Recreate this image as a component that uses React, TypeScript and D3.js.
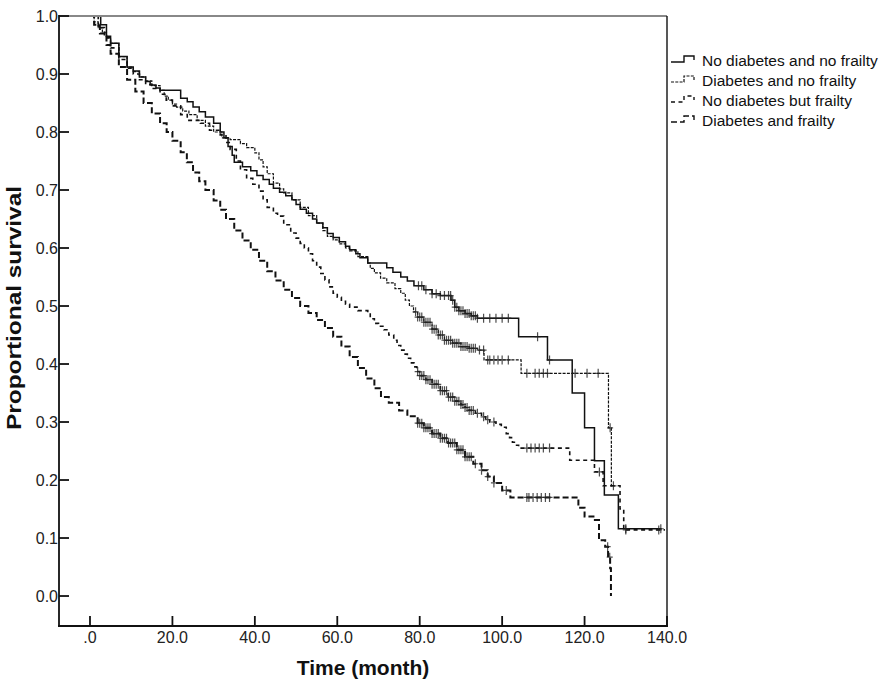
import * as d3 from 'd3';

type Pt = [number, number];

// Kaplan-Meier curves: [month, proportional survival]
const noDmNoFrail: Pt[] = [
  [0, 1], [2.6, 0.985], [4, 0.965], [5, 0.953], [7, 0.93], [9, 0.912], [10.5, 0.905], [12, 0.895],
  [13.5, 0.887], [14.6, 0.881], [16, 0.876], [17, 0.872], [22, 0.858], [23.6, 0.852], [25, 0.843],
  [26.5, 0.835], [28, 0.826], [30, 0.815], [31.6, 0.8], [32.5, 0.79], [33.5, 0.775], [34.5, 0.76],
  [35, 0.748], [37, 0.74], [39, 0.733], [40.5, 0.725], [42, 0.718], [43.5, 0.71], [44.5, 0.703],
  [46, 0.696], [47.5, 0.69], [49, 0.683], [50, 0.675], [51, 0.667], [52.5, 0.66], [54, 0.65],
  [55, 0.643], [56.5, 0.635], [57.6, 0.625], [59, 0.618], [60.5, 0.611], [62, 0.603], [63, 0.597],
  [64.5, 0.59], [65.5, 0.583], [67.4, 0.574], [72, 0.566], [73.5, 0.558], [75.4, 0.55], [77, 0.543],
  [78.6, 0.535], [81, 0.528], [83, 0.521], [85, 0.518], [87.6, 0.51], [88.5, 0.498], [89.5, 0.492],
  [91, 0.487], [92.5, 0.483], [94, 0.479], [104, 0.447], [111, 0.407], [117, 0.35], [120, 0.29],
  [122.4, 0.233], [124.8, 0.174], [128.2, 0.116], [138.7, 0.116],
];

const dmNoFrail: Pt[] = [
  [0, 1], [1, 0.99], [2, 0.98], [3, 0.972], [4, 0.962], [5, 0.953], [7, 0.93], [9, 0.912],
  [10.5, 0.904], [12, 0.895], [13.5, 0.888], [15, 0.88], [17, 0.872], [18, 0.862], [19, 0.855],
  [20, 0.848], [21, 0.843], [22.5, 0.836], [24, 0.83], [26, 0.82], [28, 0.81], [30, 0.8], [32, 0.79],
  [34, 0.787], [36.5, 0.78], [38, 0.773], [40, 0.764], [41, 0.752], [42, 0.74], [43, 0.728],
  [44.5, 0.712], [46, 0.702], [47, 0.695], [49, 0.683], [51, 0.67], [53, 0.656], [55, 0.643],
  [56.5, 0.63], [57.6, 0.62], [59, 0.614], [60.5, 0.607], [62, 0.6], [63, 0.595], [65, 0.585],
  [67.4, 0.574], [68, 0.565], [69, 0.557], [70.5, 0.548], [72, 0.54], [74, 0.53], [75.4, 0.522],
  [76.5, 0.51], [77.5, 0.5], [78.5, 0.49], [79.5, 0.481], [81, 0.472], [83, 0.46], [84.5, 0.45],
  [86, 0.441], [88, 0.436], [90, 0.43], [92, 0.427], [94, 0.424], [95.6, 0.407], [104.6, 0.384],
  [125.8, 0.29], [126.5, 0.19], [127.4, 0.19],
];

const noDmFrail: Pt[] = [
  [0, 1], [2, 0.98], [3.5, 0.963], [5, 0.945], [7, 0.925], [9, 0.91], [10.5, 0.9], [12, 0.89],
  [13.5, 0.882], [15, 0.875], [17, 0.865], [18.5, 0.855], [20, 0.845], [22, 0.83], [23.6, 0.82],
  [26.8, 0.815], [29, 0.803], [31.6, 0.795], [33, 0.782], [34, 0.77], [35.5, 0.75], [36.5, 0.735],
  [38, 0.72], [39.5, 0.71], [41, 0.698], [42, 0.683], [43, 0.67], [44.5, 0.66], [45.5, 0.655],
  [47, 0.64], [48.7, 0.626], [50, 0.617], [51, 0.608], [52, 0.6], [53, 0.59], [54, 0.578],
  [55, 0.567], [56, 0.556], [57, 0.545], [58, 0.533], [59, 0.522], [60, 0.515], [61, 0.508],
  [62, 0.503], [63, 0.498], [65, 0.492], [67.4, 0.488], [68, 0.478], [69, 0.47], [70, 0.465],
  [71.3, 0.459], [72.5, 0.45], [73.7, 0.441], [74.5, 0.432], [75.4, 0.424], [76.2, 0.417],
  [77, 0.41], [77.8, 0.402], [78.6, 0.395], [79.3, 0.387], [80, 0.38], [81.5, 0.373], [83, 0.365],
  [85, 0.354], [86.9, 0.343], [88.5, 0.336], [90, 0.33], [91, 0.325], [92, 0.32], [93.5, 0.315],
  [95, 0.309], [96, 0.304], [97, 0.3], [98.5, 0.296], [99.8, 0.291], [101, 0.28], [101.8, 0.273],
  [102.5, 0.265], [103.2, 0.26], [104, 0.255], [116.4, 0.234], [122.4, 0.214], [124.5, 0.19],
  [128.6, 0.15], [129.5, 0.114], [139.5, 0.114],
];

const dmFrail: Pt[] = [
  [0, 1], [1, 0.985], [2.4, 0.97], [4, 0.95], [5, 0.935], [7, 0.912], [9, 0.89], [11, 0.87],
  [13, 0.85], [15, 0.832], [17, 0.815], [18.6, 0.8], [20, 0.785], [22, 0.765], [23.5, 0.748],
  [25, 0.73], [26.5, 0.715], [28, 0.7], [30, 0.682], [31.6, 0.666], [33, 0.65], [35, 0.63],
  [37, 0.613], [39, 0.597], [41, 0.578], [43, 0.56], [45, 0.544], [47, 0.528], [49, 0.514],
  [51, 0.5], [53, 0.488], [55, 0.476], [57, 0.462], [59, 0.447], [61, 0.43], [63, 0.412],
  [65, 0.393], [67, 0.375], [69, 0.358], [70.6, 0.343], [72.5, 0.333], [75, 0.32], [77, 0.31],
  [79.5, 0.298], [81, 0.29], [83, 0.28], [85, 0.272], [86.9, 0.264], [89, 0.252], [91, 0.24],
  [93, 0.228], [95, 0.217], [96.5, 0.206], [98, 0.195], [100, 0.182], [102, 0.17], [118.5, 0.152],
  [120, 0.137], [122.5, 0.131], [123.5, 0.096], [125, 0.085], [125.7, 0.067], [126.2, 0.048],
  [126.4, 0],
];

// censoring times (months)
const noDmNoFrailCens = [
  79.7, 80.5, 81.5, 83, 84, 85, 86, 87, 87.5, 88, 88.5, 89, 89.5, 90, 90.5, 91, 91.5, 92, 92.5,
  93, 93.5, 94, 95.5, 97, 98.5, 100, 101.5, 108.6, 111.5, 130, 138.5,
];
const dmNoFrailCens = [
  79, 79.5, 80, 80.5, 81, 81.5, 82, 82.5, 83, 83.5, 84, 84.5, 85, 85.5, 86, 86.5, 87, 87.5, 88,
  88.5, 89, 89.5, 90, 90.5, 91, 91.5, 92, 92.5, 93, 93.5, 94.5, 95.5, 96.5, 97, 98, 99, 100, 101.5,
  106, 108, 109, 110, 111, 117.7, 120.6, 123.3, 126.2, 127,
];
const noDmFrailCens = [
  79.5, 80, 80.5, 81, 81.5, 82, 82.5, 83, 83.5, 84, 84.5, 85, 85.5, 86, 86.5, 87, 87.5, 88, 88.5,
  89, 89.5, 90, 90.5, 91, 91.5, 92, 92.5, 93, 94, 95.5, 96.5, 98, 106, 107, 108, 109, 110, 111.5,
  123.6, 130, 138,
];
const dmFrailCens = [
  79.5, 80, 80.5, 81, 81.5, 82, 82.5, 83, 83.5, 84, 84.5, 85, 85.5, 86, 86.5, 87, 87.5, 88, 88.5,
  89, 89.5, 90, 90.5, 91, 91.5, 92, 92.5, 93.5, 95, 96.5, 98, 101, 106, 106.5, 107.5, 108.5,
  109.5, 110.5, 111.5, 125.6, 126.1,
];

const groupLabels = ['No diabetes and no frailty', 'Diabetes and no frailty', 'No diabetes but frailty', 'Diabetes and frailty'];
const xTicks = [0, 20, 40, 60, 80, 100, 120, 140];
const yTicks = [0, 0.1, 0.2, 0.3, 0.4, 0.5, 0.6, 0.7, 0.8, 0.9, 1.0];

const W = 886;
const H = 686;
const left = 59;
const right = 667;
const top = 16;
const bottom = 626;

const groups = [
  { pts: noDmNoFrail, cens: noDmNoFrailCens, dash: undefined, width: 1.5 },
  { pts: dmNoFrail, cens: dmNoFrailCens, dash: '3,1.3', width: 1.2 },
  { pts: noDmFrail, cens: noDmFrailCens, dash: '4,3.5', width: 1.6 },
  { pts: dmFrail, cens: dmFrailCens, dash: '6,3', width: 2 },
];

export default function App() {
  const x = d3.scaleLinear().domain([-7.52, 140]).range([left, right]);
  const y = d3.scaleLinear().domain([-0.0517, 1]).range([bottom, top]);
  const line = d3
    .line<Pt>()
    .x((d) => x(d[0]))
    .y((d) => y(d[1]))
    .curve(d3.curveStepAfter);
  const bis = d3.bisector<Pt, number>((d) => d[0]).right;
  const valueAt = (pts: Pt[], t: number) => pts[Math.max(0, bis(pts, t) - 1)][1];
  const font = 'Arial, "Liberation Sans", sans-serif';

  return (
    <svg
      width={W}
      height={H}
      viewBox={`0 0 ${W} ${H}`}
      style={{ position: 'absolute', left: 0, top: 0, background: '#fff' }}
      fontFamily={font}
    >
      {groups.map((g, i) => (
        <g key={i}>
          <path d={line(g.pts) ?? ''} fill="none" stroke="#111" strokeWidth={g.width} strokeDasharray={g.dash} />
          {g.cens.map((t, j) => {
            const cx = x(t);
            const cy = y(valueAt(g.pts, t));
            return (
              <path
                key={j}
                d={`M${cx},${cy - 4.5}V${cy + 4.5}M${cx - 3},${cy}H${cx + 3}`}
                stroke="#222"
                strokeWidth={1.2}
                opacity={0.8}
              />
            );
          })}
        </g>
      ))}

      {/* frame */}
      <line x1={left} x2={right} y1={top} y2={top} stroke="#888" strokeWidth={1.8} />
      <line x1={right} x2={right} y1={top} y2={bottom} stroke="#111" strokeWidth={1.4} />
      <line x1={left} x2={left} y1={top - 1} y2={bottom + 1} stroke="#111" strokeWidth={1.8} />
      <line x1={left - 1} x2={right + 1} y1={bottom} y2={bottom} stroke="#111" strokeWidth={1.8} />

      {yTicks.map((v) => (
        <g key={v} transform={`translate(0,${y(v)})`}>
          <line x1={left} x2={left + 10} stroke="#111" strokeWidth={1.8} />
          <text x={left - 1} dy="0.35em" textAnchor="end" fontSize={16} fill="#222">
            {v.toFixed(1)}
          </text>
        </g>
      ))}
      {xTicks.map((v) => (
        <g key={v} transform={`translate(${x(v)},0)`}>
          <line y1={bottom} y2={bottom - 10} stroke="#111" strokeWidth={1.8} />
          <text y={bottom + 17} textAnchor="middle" fontSize={16} fill="#222">
            {v === 0 ? '.0' : v.toFixed(1)}
          </text>
        </g>
      ))}

      <text x={(left + right) / 2} y={675} textAnchor="middle" fontSize={21} fontWeight="bold" fill="#111">
        Time (month)
      </text>
      <text
        transform={`translate(21,${308}) rotate(-90)`}
        textAnchor="middle"
        fontSize={21}
        fontWeight="bold"
        fill="#111"
        textLength={244}
        lengthAdjust="spacingAndGlyphs"
      >
        Proportional survival
      </text>

      {/* legend */}
      {groupLabels.map((label, i) => {
        const ly = 61 + i * 20;
        const g = groups[i];
        return (
          <g key={label}>
            <path
              d={`M671,${ly + 1}H684V${ly - 5}H694V${ly - 1}`}
              fill="none"
              stroke="#111"
              strokeWidth={Math.min(g.width, 1.4)}
              strokeDasharray={g.dash}
            />
            <text x={702} y={ly + 5} fontSize={15.5} fill="#111">
              {label}
            </text>
          </g>
        );
      })}
    </svg>
  );
}
